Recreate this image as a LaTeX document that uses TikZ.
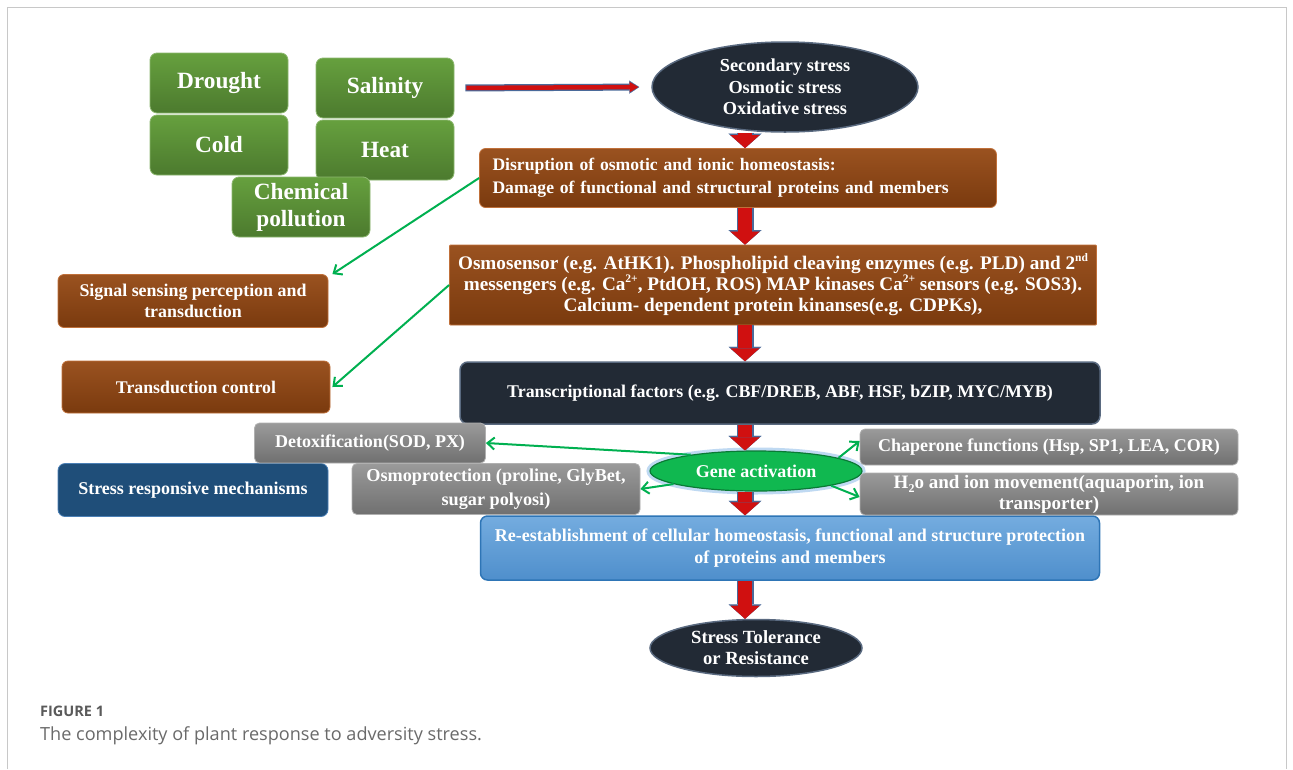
\documentclass[tikz,border=0pt]{standalone}
\usepackage{fontspec}
\setmainfont{Liberation Serif}
\newfontfamily\capfont{Open Sans}
\usetikzlibrary{shapes.geometric,arrows.meta,calc}
\newcommand\mysup[1]{\raisebox{0.42em}{\fontsize{11.5}{11.5}\selectfont #1}}
\newcommand\mysub[1]{\raisebox{-0.22em}{\fontsize{12}{12}\selectfont #1}}
\definecolor{cframe}{HTML}{C8C8C8}
\definecolor{cgtop}{HTML}{66A03E}
\definecolor{cgbot}{HTML}{4C7A2E}
\definecolor{cgline}{HTML}{8DB870}
\definecolor{cbtop}{HTML}{9A5220}
\definecolor{cbbot}{HTML}{7A3A0E}
\definecolor{cbline}{HTML}{C0703A}
\definecolor{cnavy}{HTML}{222A35}
\definecolor{cnavyline}{HTML}{5A6A80}
\definecolor{clbtop}{HTML}{74ACDF}
\definecolor{clbbot}{HTML}{4F8FCC}
\definecolor{clbline}{HTML}{2E75B6}
\definecolor{cdblue}{HTML}{1F4E79}
\definecolor{cdbline}{HTML}{4A7FB5}
\definecolor{cgrtop}{HTML}{9A9A9A}
\definecolor{cgrbot}{HTML}{707070}
\definecolor{cgrline}{HTML}{B0B0B0}
\definecolor{cgene}{HTML}{10B850}
\definecolor{cgeneline}{HTML}{0A7A35}
\definecolor{cglow}{HTML}{BFD9F2}
\definecolor{carrg}{HTML}{00B050}
\definecolor{cred}{HTML}{D01010}
\definecolor{credline}{HTML}{4A6A9A}
\definecolor{ccap}{HTML}{5A5A5A}
\definecolor{ccapt}{HTML}{6A6A6A}
\tikzset{
  base/.style={inner sep=0pt, text=white, align=center},
  gbox/.style={base, rounded corners=7pt, draw=cgline, line width=0.8pt,
    top color=cgtop, bottom color=cgbot,
    font=\bfseries\fontsize{23.3}{27}\selectfont,
    minimum width=138pt, minimum height=60pt},
  bbox/.style={base, rounded corners=6pt, draw=cbline, line width=0.8pt,
    top color=cbtop, bottom color=cbbot,
    font=\bfseries\fontsize{18}{21.5}\selectfont},
  navyell/.style={base, ellipse, draw=cnavyline, line width=1.5pt, fill=cnavy,
    font=\bfseries\fontsize{18.3}{21.5}\selectfont},
  navybox/.style={base, rounded corners=8pt, draw=cnavyline, line width=1.5pt, fill=cnavy,
    font=\bfseries\fontsize{17.9}{21}\selectfont},
  lbbox/.style={base, rounded corners=7pt, draw=clbline, line width=1.5pt,
    top color=clbtop, bottom color=clbbot,
    font=\bfseries\fontsize{18}{22}\selectfont},
  dbbox/.style={base, rounded corners=7pt, draw=cdbline, line width=0.8pt, fill=cdblue,
    font=\bfseries\fontsize{18}{21}\selectfont},
  grbox/.style={base, rounded corners=5pt, draw=cgrline, line width=0.8pt,
    top color=cgrtop, bottom color=cgrbot,
    font=\bfseries\fontsize{18}{22}\selectfont},
  geneell/.style={base, ellipse, draw=cgeneline, line width=1.2pt, fill=cgene,
    preaction={draw=cglow, line width=7pt},
    font=\bfseries\fontsize{18}{20}\selectfont},
  blkout/.style={draw=credline, line width=17pt,
    -{Triangle[width=33pt,length=14.5pt,line width=0.1pt]}},
  blk/.style={draw=cred, line width=14pt,
    -{Triangle[width=29pt,length=13pt,line width=0.1pt]}},
  thinout/.style={draw=credline, line width=7pt,
    -{Triangle[width=13pt,length=10pt,line width=0.1pt]}},
  thinred/.style={draw=cred, line width=4.5pt,
    -{Triangle[width=10pt,length=8.5pt,line width=0.1pt]}},
  garr/.style={draw=carrg, line width=2pt,
    -{Straight Barb[length=7pt,width=12pt]}}
}
\newcommand\blkarrow[2]{\draw[blkout] (#1) -- (#2);\draw[blk] (#1) -- (#2);}
\begin{document}
\begin{tikzpicture}[x=1pt,y=-1pt]
\useasboundingbox (0,0) rectangle (1293,769);
\fill[white] (0,0) rectangle (1293,769);
\draw[cframe, line width=1pt] (7.5,769) -- (7.5,7.5) -- (1286.5,7.5) -- (1286.5,769);

% stress factors
\node[gbox] (drought) at (219,83) {Drought};
\node[gbox] (salinity) at (385,88) {Salinity};
\node[gbox] (cold) at (219,145) {Cold};
\node[gbox] (heat) at (385,150) {Heat};
\node[gbox] (chem) at (301,207) {Chemical\\pollution};

% main column
\node[navyell, minimum width=266pt, minimum height=90pt] (secondary) at (785,87)
  {Secondary stress\\Osmotic stress\\Oxidative stress};
\node[bbox, minimum width=517pt, minimum height=59pt, text width=491pt, align=left,
  font=\bfseries\fontsize{17.6}{23}\selectfont] (disrupt) at (738,178)
  {Disruption of osmotic and ionic homeostasis:\\Damage of functional and structural proteins and members};
\node[bbox, rounded corners=1pt, minimum width=647pt, minimum height=80pt,
  font=\bfseries\fontsize{19.2}{21}\selectfont] (osmo) at (773,285)
  {Osmosensor (e.g. AtHK1). Phospholipid cleaving enzymes (e.g. PLD) and 2\mysup{nd}\\
   messengers (e.g. Ca\mysup{2+}, PtdOH, ROS) MAP kinases Ca\mysup{2+} sensors (e.g. SOS3).\\
   Calcium- dependent protein kinanses(e.g. CDPKs),};
\node[navybox, minimum width=640pt, minimum height=62pt] (tf) at (780,393)
  {Transcriptional factors (e.g. CBF/DREB, ABF, HSF, bZIP, MYC/MYB)};
\node[geneell, minimum width=212pt, minimum height=40pt] (gene) at (756,471) {Gene activation};
\node[lbbox, minimum width=619pt, minimum height=64pt] (reest) at (790,548)
  {Re-establishment of cellular homeostasis, functional and structure protection\\of proteins and members};
\node[navyell, minimum width=212pt, minimum height=57pt, font=\bfseries\fontsize{18.6}{21}\selectfont] (tol) at (756,648)
  {Stress Tolerance\\or Resistance};
\coordinate (axis) at (745,0);

% left column
\node[bbox, minimum width=270pt, minimum height=53pt, font=\bfseries\fontsize{17.9}{21}\selectfont] (signal) at (193,301)
  {Signal sensing perception and\\transduction};
\node[bbox, minimum width=268pt, minimum height=52pt, font=\bfseries\fontsize{17.8}{21}\selectfont] (tcontrol) at (196,387)
  {Transduction control};
\node[dbbox, minimum width=270pt, minimum height=53pt] (srm) at (193,490)
  {Stress responsive mechanisms};

% gray boxes
\node[grbox, minimum width=231pt, minimum height=40pt] (detox) at (370,443)
  {Detoxification(SOD, PX)};
\node[grbox, minimum width=288pt, minimum height=51pt, font=\bfseries\fontsize{18.2}{24}\selectfont] (osmoprot) at (496,489)
  {Osmoprotection (proline, GlyBet,\\sugar polyosi)};
\node[grbox, minimum width=378pt, minimum height=36pt] (chap) at (1049,447)
  {Chaperone functions (Hsp, SP1, LEA, COR)};
\node[grbox, minimum width=378pt, minimum height=42pt, font=\bfseries\fontsize{19}{21}\selectfont] (water) at (1049,494)
  {H\mysub{2}o and ion movement(aquaporin, ion\\transporter)};

% connectors
\draw[thinout, shorten <=11pt, shorten >=12pt] (salinity.east) -- (secondary.west);
\draw[thinred, shorten <=12pt, shorten >=13pt] (salinity.east) -- (secondary.west);
\blkarrow{secondary.south -| axis}{disrupt.north -| axis}
\blkarrow{disrupt.south -| axis}{osmo.north -| axis}
\blkarrow{osmo.south -| axis}{tf.north -| axis}
\blkarrow{tf.south -| axis}{gene.north -| axis}
\blkarrow{gene.south -| axis}{reest.north -| axis}
\blkarrow{reest.south -| axis}{tol.north -| axis}

\draw[garr] (disrupt.west) -- ([xshift=4pt]signal.north east);
\draw[garr] (osmo.west) -- ([xshift=2pt]tcontrol.east);
\draw[garr] (gene.166) -- (detox.east);
\draw[garr] (gene.189) -- (osmoprot.east);
\draw[garr] (gene.9) -- ([yshift=6pt]chap.west);
\draw[garr] (gene.-11) -- ([yshift=-3pt]water.west);

% caption
\node[anchor=base west, inner sep=0pt, text=ccap, font=\capfont\bfseries\fontsize{14.5}{16}\selectfont] (fig) at (40,716) {FIGURE 1};
\node[anchor=base west, inner sep=0pt, text=ccapt, font=\capfont\fontsize{18.1}{20}\selectfont] (cap) at (40,740)
  {The complexity of plant response to adversity stress.};
\end{tikzpicture}
\end{document}
